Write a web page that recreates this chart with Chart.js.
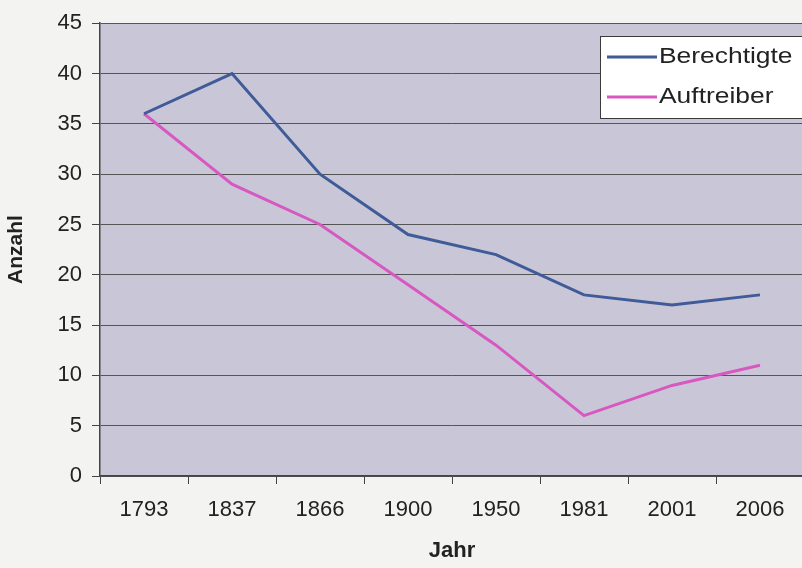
<!DOCTYPE html>
<html>
<head>
<meta charset="utf-8">
<script src="https://cdn.jsdelivr.net/npm/chart.js@4.4.0/dist/chart.umd.min.js"></script>
<style>
  html, body { margin: 0; padding: 0; background: #f3f3f1; overflow: hidden; }
  #wrap { width: 808px; height: 568px; }
</style>
</head>
<body>
<div id="wrap"><canvas id="chart" width="808" height="568"></canvas></div>
<script>
const jahre = ["1793", "1837", "1866", "1900", "1950", "1981", "2001", "2006"];
const berechtigte = [36, 40, 30, 24, 22, 18, 17, 18];
const auftreiber = [36, 29, 25, 19, 13, 6, 9, 11];

const FONT = "'Liberation Sans', Arial, sans-serif";

const plotBg = {
  id: "plotBg",
  beforeDraw(chart) {
    const { ctx, chartArea: a } = chart;
    ctx.save();
    ctx.fillStyle = "#c9c7d7";
    ctx.fillRect(a.left, a.top, a.right - a.left, a.bottom - a.top);
    ctx.restore();
  }
};

// legend box inside the plot, text a bit stretched like the scan
const boxLegend = {
  id: "boxLegend",
  afterDraw(chart) {
    const ctx = chart.ctx;
    ctx.save();
    ctx.fillStyle = "#ffffff";
    ctx.fillRect(600, 36, 202, 82);
    ctx.strokeStyle = "#3a3a3a";
    ctx.lineWidth = 1;
    ctx.strokeRect(600.5, 36.5, 202, 82);
    ctx.textBaseline = "middle";
    chart.data.datasets.forEach((ds, i) => {
      const y = 57 + i * 40;
      ctx.strokeStyle = ds.borderColor;
      ctx.lineWidth = 3;
      ctx.beginPath();
      ctx.moveTo(607, y);
      ctx.lineTo(657, y);
      ctx.stroke();
      ctx.save();
      ctx.translate(659, y);
      ctx.scale(1.2, 1);
      ctx.font = "22px " + FONT;
      ctx.fillStyle = "#222";
      ctx.fillText(ds.label, 0, 0);
      ctx.restore();
    });
    ctx.restore();
  }
};

const ctx = document.getElementById("chart").getContext("2d");
const chart = new Chart(ctx, {
  type: "line",
  data: {
    labels: jahre,
    datasets: [
      { label: "Berechtigte", data: berechtigte, borderColor: "#3f5b98", borderWidth: 3, pointRadius: 0, tension: 0 },
      { label: "Auftreiber", data: auftreiber, borderColor: "#d858c2", borderWidth: 3, pointRadius: 0, tension: 0 }
    ]
  },
  options: {
    responsive: false,
    animation: false,
    layout: { padding: { top: 22, right: 4, left: 0, bottom: 0 } },
    plugins: { legend: { display: false }, tooltip: { enabled: false } },
    scales: {
      x: {
        offset: true,
        afterFit: (s) => { s.height = 92; },
        grid: { offset: true, drawOnChartArea: false, color: "#444", tickLength: 8, tickColor: "#444" },
        border: { color: "#444", width: 1.5 },
        ticks: { color: "#222", padding: 13, font: { size: 22, family: FONT }, maxRotation: 0 },
        title: { display: true, text: "Jahr", color: "#222", padding: { top: 11 }, font: { size: 22, weight: "bold", family: FONT } }
      },
      y: {
        min: 0, max: 45,
        afterFit: (s) => { s.width = 100; },
        grid: { color: "#555", lineWidth: 1, tickLength: 8, tickColor: "#444" },
        border: { color: "#444", width: 1.5 },
        ticks: { stepSize: 5, color: "#222", padding: 10, font: { size: 22, family: FONT } },
        title: { display: true, text: "Anzahl", color: "#222", padding: { bottom: 2 }, font: { size: 21, weight: "bold", family: FONT } }
      }
    }
  },
  plugins: [plotBg, boxLegend]
});
</script>
</body>
</html>
